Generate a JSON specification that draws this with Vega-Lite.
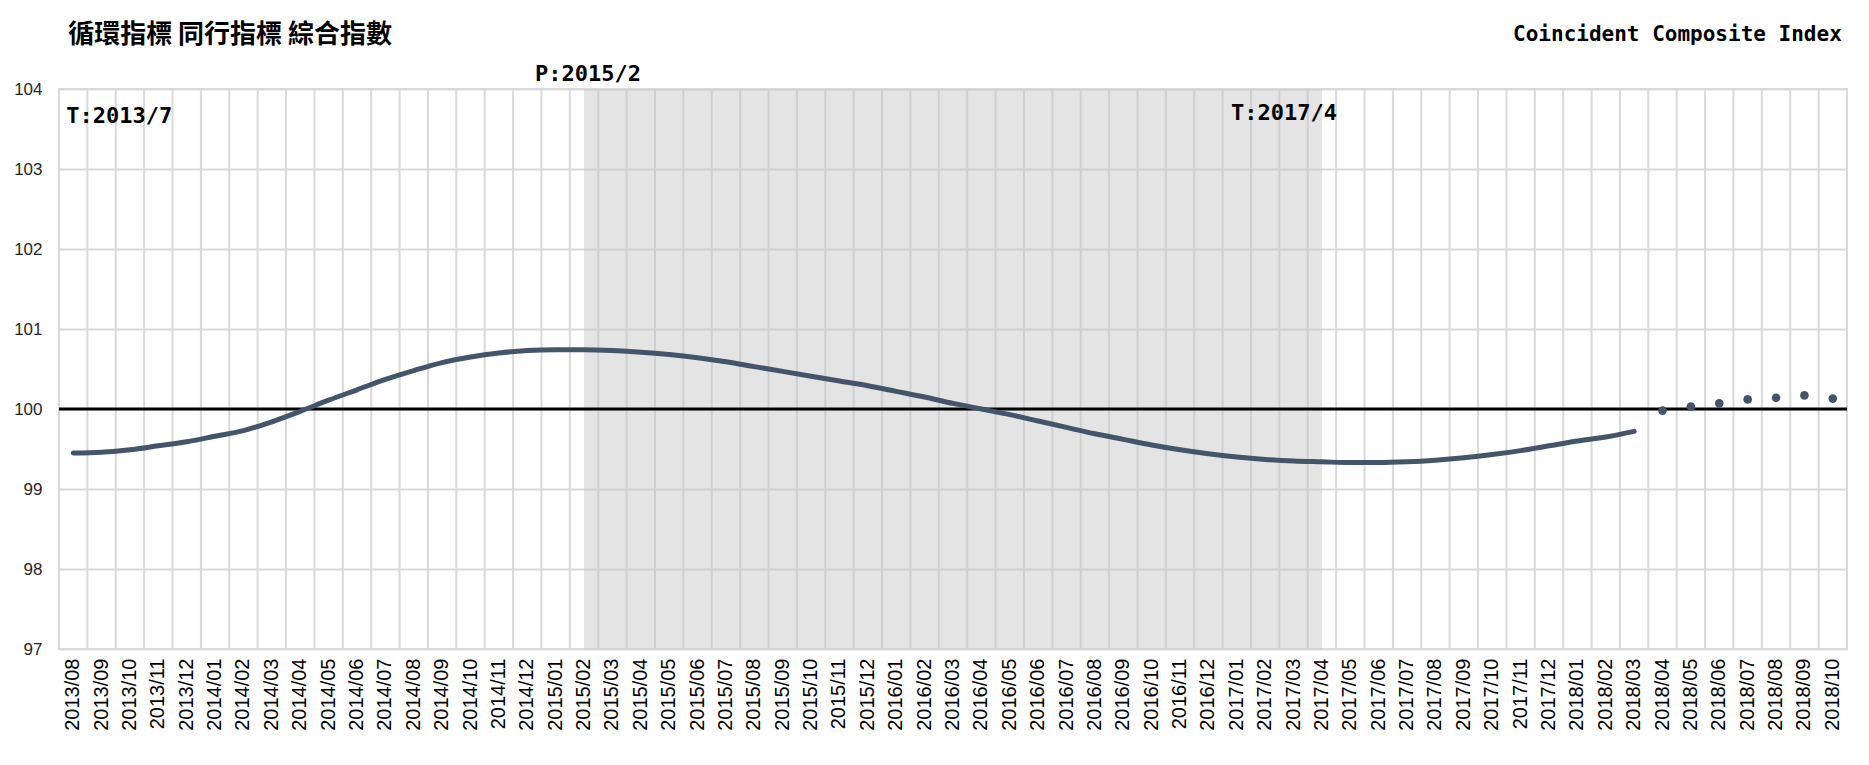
{
  "$schema": "https://vega.github.io/schema/vega-lite/v6.json",
  "width": 1788,
  "height": 560,
  "autosize": {"type": "none"},
  "padding": {"left": 59, "top": 89, "right": 22, "bottom": 116},
  "background": "white",
  "config": {"view": {"stroke": "#d9d9d9", "strokeWidth": 2}},
  "datasets": {
    "series": [
      {"month": "2013/08", "value": 99.45, "kind": "line"},
      {"month": "2013/09", "value": 99.46, "kind": "line"},
      {"month": "2013/10", "value": 99.49, "kind": "line"},
      {"month": "2013/11", "value": 99.54, "kind": "line"},
      {"month": "2013/12", "value": 99.59, "kind": "line"},
      {"month": "2014/01", "value": 99.66, "kind": "line"},
      {"month": "2014/02", "value": 99.73, "kind": "line"},
      {"month": "2014/03", "value": 99.84, "kind": "line"},
      {"month": "2014/04", "value": 99.97, "kind": "line"},
      {"month": "2014/05", "value": 100.11, "kind": "line"},
      {"month": "2014/06", "value": 100.24, "kind": "line"},
      {"month": "2014/07", "value": 100.37, "kind": "line"},
      {"month": "2014/08", "value": 100.48, "kind": "line"},
      {"month": "2014/09", "value": 100.58, "kind": "line"},
      {"month": "2014/10", "value": 100.65, "kind": "line"},
      {"month": "2014/11", "value": 100.70, "kind": "line"},
      {"month": "2014/12", "value": 100.73, "kind": "line"},
      {"month": "2015/01", "value": 100.74, "kind": "line"},
      {"month": "2015/02", "value": 100.74, "kind": "line"},
      {"month": "2015/03", "value": 100.73, "kind": "line"},
      {"month": "2015/04", "value": 100.71, "kind": "line"},
      {"month": "2015/05", "value": 100.68, "kind": "line"},
      {"month": "2015/06", "value": 100.64, "kind": "line"},
      {"month": "2015/07", "value": 100.59, "kind": "line"},
      {"month": "2015/08", "value": 100.53, "kind": "line"},
      {"month": "2015/09", "value": 100.47, "kind": "line"},
      {"month": "2015/10", "value": 100.41, "kind": "line"},
      {"month": "2015/11", "value": 100.35, "kind": "line"},
      {"month": "2015/12", "value": 100.29, "kind": "line"},
      {"month": "2016/01", "value": 100.22, "kind": "line"},
      {"month": "2016/02", "value": 100.15, "kind": "line"},
      {"month": "2016/03", "value": 100.07, "kind": "line"},
      {"month": "2016/04", "value": 100.00, "kind": "line"},
      {"month": "2016/05", "value": 99.93, "kind": "line"},
      {"month": "2016/06", "value": 99.85, "kind": "line"},
      {"month": "2016/07", "value": 99.77, "kind": "line"},
      {"month": "2016/08", "value": 99.69, "kind": "line"},
      {"month": "2016/09", "value": 99.62, "kind": "line"},
      {"month": "2016/10", "value": 99.55, "kind": "line"},
      {"month": "2016/11", "value": 99.49, "kind": "line"},
      {"month": "2016/12", "value": 99.44, "kind": "line"},
      {"month": "2017/01", "value": 99.40, "kind": "line"},
      {"month": "2017/02", "value": 99.37, "kind": "line"},
      {"month": "2017/03", "value": 99.35, "kind": "line"},
      {"month": "2017/04", "value": 99.34, "kind": "line"},
      {"month": "2017/05", "value": 99.33, "kind": "line"},
      {"month": "2017/06", "value": 99.33, "kind": "line"},
      {"month": "2017/07", "value": 99.34, "kind": "line"},
      {"month": "2017/08", "value": 99.36, "kind": "line"},
      {"month": "2017/09", "value": 99.39, "kind": "line"},
      {"month": "2017/10", "value": 99.43, "kind": "line"},
      {"month": "2017/11", "value": 99.48, "kind": "line"},
      {"month": "2017/12", "value": 99.54, "kind": "line"},
      {"month": "2018/01", "value": 99.60, "kind": "line"},
      {"month": "2018/02", "value": 99.65, "kind": "line"},
      {"month": "2018/03", "value": 99.72, "kind": "line"},
      {"month": "2018/04", "value": 99.98, "kind": "dot"},
      {"month": "2018/05", "value": 100.03, "kind": "dot"},
      {"month": "2018/06", "value": 100.07, "kind": "dot"},
      {"month": "2018/07", "value": 100.12, "kind": "dot"},
      {"month": "2018/08", "value": 100.14, "kind": "dot"},
      {"month": "2018/09", "value": 100.17, "kind": "dot"},
      {"month": "2018/10", "value": 100.13, "kind": "dot"}
    ]
  },
  "layer": [
    {
      "data": {"name": "series"},
      "mark": {"type": "rule", "color": "#d9d9d9", "strokeWidth": 2},
      "encoding": {
        "x": {
          "field": "month", "type": "ordinal", "bandPosition": 0, "title": null,
          "scale": {"type": "band", "paddingInner": 0, "paddingOuter": 0},
          "axis": {
            "bandPosition": 0.5, "labelAngle": -90, "labelFont": "Liberation Sans",
            "labelFontSize": 20, "labelColor": "#000000", "labelPadding": 9,
            "ticks": false, "domain": false, "grid": false, "labelOverlap": false, "title": null
          }
        },
        "y": {
          "datum": 97, "type": "quantitative",
          "scale": {"domain": [97, 104], "nice": false, "zero": false},
          "axis": {
            "values": [97, 98, 99, 100, 101, 102, 103, 104], "format": "d", "grid": true,
            "gridColor": "#d9d9d9", "gridWidth": 2, "domain": false, "ticks": false,
            "labelPadding": 17, "labelFont": "Liberation Sans", "labelFontSize": 17,
            "labelColor": "#262626", "labelFlush": false, "labelOverlap": false, "title": null
          }
        },
        "y2": {"datum": 104}
      }
    },
    {
      "data": {"values": [{"start": "2015/02", "end": "2017/04"}]},
      "mark": {"type": "rect", "fill": "#c3c3c3", "opacity": 0.45},
      "encoding": {
        "x": {"field": "start", "type": "ordinal", "bandPosition": 0.5, "title": null},
        "x2": {"field": "end", "bandPosition": 0.5},
        "y": {"datum": 97, "type": "quantitative"},
        "y2": {"datum": 104}
      }
    },
    {
      "data": {"values": [{}]},
      "mark": {"type": "rule", "color": "#000000", "strokeWidth": 3},
      "encoding": {"y": {"datum": 100, "type": "quantitative"}}
    },
    {
      "data": {"name": "series"},
      "transform": [{"filter": "datum.kind === 'line'"}],
      "mark": {"type": "line", "color": "#44546a", "strokeWidth": 5, "strokeCap": "round", "interpolate": "monotone"},
      "encoding": {
        "x": {"field": "month", "type": "ordinal", "title": null},
        "y": {"field": "value", "type": "quantitative", "title": null}
      }
    },
    {
      "data": {"name": "series"},
      "transform": [{"filter": "datum.kind === 'dot'"}],
      "mark": {"type": "circle", "color": "#44546a", "size": 75, "opacity": 1},
      "encoding": {
        "x": {"field": "month", "type": "ordinal", "title": null},
        "y": {"field": "value", "type": "quantitative", "title": null}
      }
    },
    {
      "data": {"values": [{"label": "循環指標 同行指標 綜合指數", "month": "2013/08"}]},
      "mark": {"type": "text", "align": "left", "baseline": "middle", "dx": -5, "dy": -54, "font": "Noto Sans CJK TC", "fontWeight": "bold", "fontSize": 26, "color": "#000000"},
      "encoding": {
        "x": {"field": "month", "type": "ordinal", "title": null},
        "y": {"datum": 104, "type": "quantitative"},
        "text": {"field": "label"}
      }
    },
    {
      "data": {"values": [{"label": "Coincident Composite Index", "month": "2018/10"}]},
      "mark": {"type": "text", "align": "right", "baseline": "middle", "dx": 9, "dy": -54, "font": "DejaVu Sans Mono", "fontWeight": "bold", "fontSize": 21, "color": "#000000"},
      "encoding": {
        "x": {"field": "month", "type": "ordinal", "title": null},
        "y": {"datum": 104, "type": "quantitative"},
        "text": {"field": "label"}
      }
    },
    {
      "data": {"values": [{"label": "T:2013/7", "month": "2013/08"}]},
      "mark": {"type": "text", "align": "left", "baseline": "middle", "dx": -7, "dy": 27, "font": "DejaVu Sans Mono", "fontWeight": "bold", "fontSize": 22, "color": "#000000"},
      "encoding": {
        "x": {"field": "month", "type": "ordinal", "title": null},
        "y": {"datum": 104, "type": "quantitative"},
        "text": {"field": "label"}
      }
    },
    {
      "data": {"values": [{"label": "P:2015/2", "month": "2015/02"}]},
      "mark": {"type": "text", "align": "center", "baseline": "middle", "dx": 4, "dy": -15, "font": "DejaVu Sans Mono", "fontWeight": "bold", "fontSize": 22, "color": "#000000"},
      "encoding": {
        "x": {"field": "month", "type": "ordinal", "title": null},
        "y": {"datum": 104, "type": "quantitative"},
        "text": {"field": "label"}
      }
    },
    {
      "data": {"values": [{"label": "T:2017/4", "month": "2017/04"}]},
      "mark": {"type": "text", "align": "right", "baseline": "middle", "dx": 15, "dy": 24, "font": "DejaVu Sans Mono", "fontWeight": "bold", "fontSize": 22, "color": "#000000"},
      "encoding": {
        "x": {"field": "month", "type": "ordinal", "title": null},
        "y": {"datum": 104, "type": "quantitative"},
        "text": {"field": "label"}
      }
    }
  ]
}
